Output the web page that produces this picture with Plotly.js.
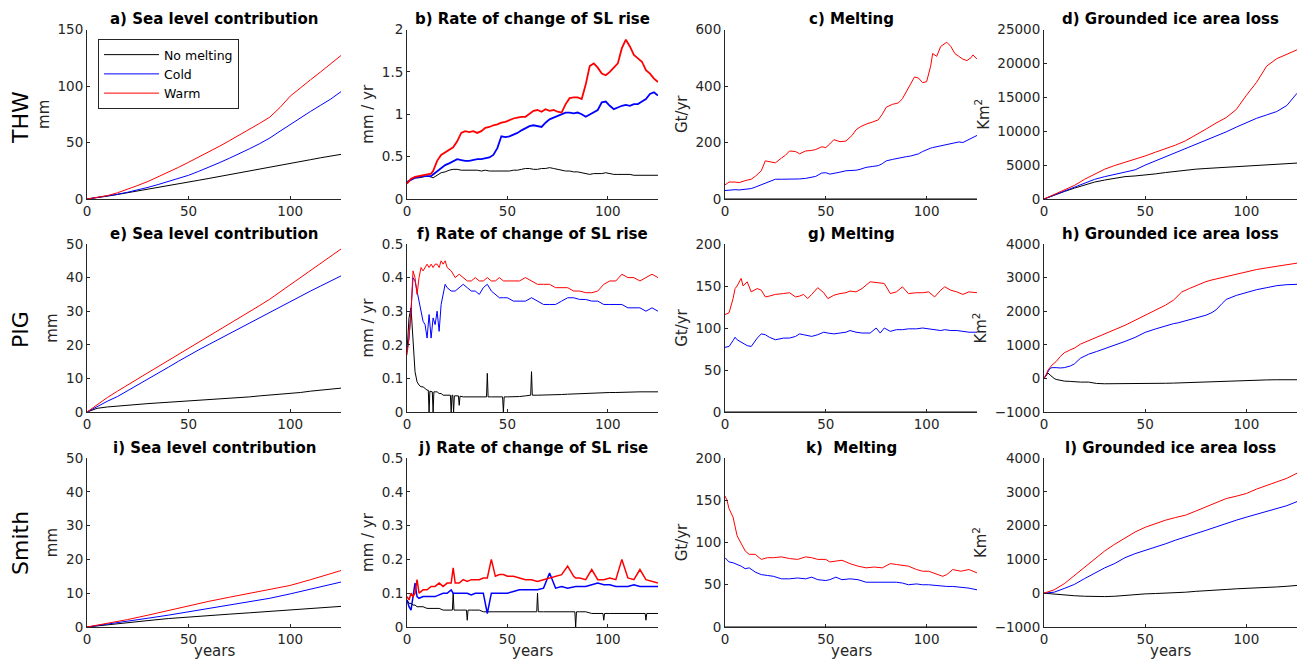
<!DOCTYPE html>
<html>
<head>
<meta charset="utf-8">
<script src="https://cdn.plot.ly/plotly-3.0.1.min.js"></script>
<style>html,body{margin:0;padding:0;background:#fff;}#chart{width:1298px;height:665px;}</style>
</head>
<body>
<div id="chart"></div>
<script>
// ---------- DATA ----------
const seriesNames = ['No melting', 'Cold', 'Warm'];
const rowLabels = ['THW', 'PIG', 'Smith'];
const panelTitles = ['a) Sea level contribution', 'b) Rate of change of SL rise', 'c) Melting', 'd) Grounded ice area loss',
  'e) Sea level contribution', 'f) Rate of change of SL rise', 'g) Melting', 'h) Grounded ice area loss',
  'i) Sea level contribution', 'j) Rate of change of SL rise', 'k)\u00a0 Melting', 'l) Grounded ice area loss'];
const yTitles = ['mm', 'mm / yr', 'Gt/yr', 'Km<sup>2</sup>'];
const xTitle = 'years';

// a) THW sea level contribution
const yrsA = [0,5,10,15,20,25,30,35,40,45,50,55,60,65,70,75,80,85,90,95,100,105,110,115,120,125];
const aNoMelt = [0,1.1,2.5,4,5.5,7,8.6,10.2,11.8,13.4,15,16.6,18.2,19.8,21.4,23,24.6,26.2,27.8,29.5,31.2,33,34.8,36.5,38.2,39.5];
const aCold = [0,1.2,2.6,4.2,6,8,10.3,12.8,15.4,18,21,24.5,28,32,36,40,44.5,49,54,60,66,72,77.5,83,88.5,95];
const aWarm = [0,1.2,3,5.5,8.5,12,15.5,19.5,23.5,28,32.5,37,41.5,46.5,51.5,56.5,61.5,67,72.5,81,91,98.5,105.5,112.5,120,127];

// b) THW rate of change of SL rise
const yrsB = [0,2,4,6,8,10,12,13,15,17,19,21,23,25,27,29,31,33,35,37,39,41,43,45,47,49,51,53,55,57,59,61,63,65,67,69,71,73,75,77,79,81,83,85,87,89,91,93,95,97,99,101,103,105,107,109,111,113,115,117,119,121,123,125];
const bWarm = [0.18,0.24,0.26,0.27,0.28,0.29,0.30,0.33,0.45,0.52,0.55,0.58,0.61,0.68,0.78,0.80,0.79,0.80,0.78,0.80,0.84,0.85,0.87,0.88,0.90,0.91,0.93,0.95,0.96,0.97,0.97,1.00,1.04,1.05,1.03,1.06,1.04,1.05,1.03,1.02,1.12,1.19,1.20,1.20,1.18,1.35,1.57,1.60,1.55,1.48,1.46,1.50,1.55,1.60,1.78,1.88,1.80,1.70,1.66,1.62,1.52,1.48,1.42,1.38];
const bCold = [0.2,0.23,0.25,0.26,0.27,0.27,0.27,0.29,0.33,0.37,0.40,0.42,0.45,0.47,0.46,0.45,0.45,0.46,0.47,0.47,0.48,0.49,0.52,0.60,0.74,0.73,0.74,0.76,0.78,0.81,0.84,0.86,0.87,0.86,0.85,0.90,0.94,0.96,0.98,1.00,1.02,1.02,1.01,1.02,1.00,0.97,1.00,1.02,1.05,1.14,1.15,1.10,1.06,1.08,1.10,1.11,1.10,1.12,1.12,1.15,1.18,1.24,1.26,1.22];
const bNoMelt = [0.2,0.23,0.25,0.25,0.26,0.27,0.26,0.25,0.28,0.31,0.32,0.34,0.35,0.35,0.34,0.34,0.34,0.34,0.34,0.33,0.34,0.33,0.33,0.33,0.33,0.33,0.33,0.34,0.34,0.35,0.36,0.36,0.35,0.35,0.36,0.36,0.37,0.36,0.35,0.34,0.33,0.33,0.32,0.32,0.31,0.30,0.29,0.30,0.30,0.30,0.31,0.30,0.29,0.29,0.29,0.29,0.29,0.28,0.28,0.28,0.28,0.28,0.28,0.28];

// c) THW melting
const yrsC = [0,2,5,7,10,13,15,18,20,23,25,28,30,32,35,37,40,43,45,48,50,52,54,57,60,63,65,67,70,73,76,78,80,83,86,88,90,92,94,96,98,100,102,103,105,107,109,110,112,114,116,118,120,122,123,125];
const cWarm = [50,60,60,58,65,70,80,100,135,130,128,145,155,170,168,160,170,172,175,185,182,195,210,203,205,225,245,255,265,272,280,300,325,335,340,355,380,410,432,428,412,415,470,515,505,540,552,555,540,515,505,495,490,500,510,495];
const cCold = [30,32,33,32,35,37,42,50,55,65,70,70,70,70,70,71,73,77,80,92,93,88,90,95,100,100,102,105,112,115,118,125,135,140,145,147,150,152,155,160,168,175,180,182,185,190,193,195,198,200,202,200,208,215,220,225];
const yrsNoMeltMelting = [0,125];
const noMeltMelting = [0,0];

// d) THW grounded ice area loss
const yrsD = [0,5,10,15,20,25,30,35,40,45,50,55,60,65,70,75,80,85,90,95,100,105,110,115,120,125];
const dWarm = [0,650,1300,2000,2900,3700,4400,4950,5400,5850,6350,6900,7400,7950,8600,9400,10300,11200,12000,13200,15300,17200,19600,20700,21400,22000];
const dCold = [0,600,1200,1700,2300,2900,3300,3600,3900,4300,5000,5600,6200,6800,7400,8000,8600,9200,9900,10600,11300,11900,12400,12900,13800,15600];
const dNoMelt = [0,600,1100,1600,2100,2500,2800,3100,3300,3400,3500,3700,3900,4100,4300,4400,4500,4600,4700,4800,4900,4950,5050,5150,5250,5300];

// e) PIG sea level contribution
const yrsE = [0,5,10,15,20,25,30,35,40,45,50,55,60,65,70,75,80,85,90,95,100,105,110,115,120,125];
const eWarm = [0,2.2,4.3,6.2,8.1,9.9,11.7,13.5,15.3,17.1,18.9,20.7,22.5,24.3,26.1,28,29.9,31.7,33.6,35.7,38,40,42.2,44.3,46.4,48.5];
const eCold = [0,1.7,3.2,4.6,6.3,8,9.8,11.5,13.3,15.1,16.9,18.5,20.1,21.7,23.3,25,26.6,28.2,29.8,31.4,33,34.5,36,37.5,39,40.5];
const eNoMelt = [0,1.1,1.5,1.8,2.05,2.3,2.5,2.7,2.9,3.0,3.1,3.3,3.5,3.7,4.0,4.3,4.5,4.8,5.0,5.2,5.4,5.8,6.2,6.5,6.8,7.1];

// f) PIG rate of change of SL rise
const yrsF = [0,1,2,3,4,5,6,7,8,9,10,11,12,13,14,15,16,17,18,19,20,22,24,26,28,30,32,34,36,38,40,42,44,46,48,50,53,56,59,62,65,68,71,74,77,80,83,86,89,92,95,98,101,104,107,110,113,116,119,122,125];
const fWarm = [0.17,0.22,0.30,0.42,0.40,0.35,0.40,0.43,0.42,0.43,0.44,0.43,0.44,0.43,0.44,0.44,0.43,0.45,0.44,0.45,0.43,0.42,0.40,0.41,0.40,0.39,0.39,0.40,0.39,0.39,0.40,0.39,0.39,0.40,0.39,0.39,0.39,0.39,0.40,0.39,0.38,0.38,0.38,0.37,0.37,0.37,0.36,0.36,0.355,0.355,0.36,0.38,0.39,0.39,0.41,0.40,0.40,0.39,0.40,0.41,0.40];
const fCold = [0.18,0.22,0.30,0.40,0.39,0.36,0.33,0.29,0.27,0.26,0.22,0.29,0.22,0.28,0.26,0.30,0.24,0.32,0.35,0.38,0.37,0.36,0.36,0.37,0.38,0.37,0.36,0.36,0.35,0.37,0.38,0.36,0.35,0.34,0.34,0.34,0.33,0.33,0.33,0.34,0.33,0.32,0.32,0.32,0.33,0.34,0.34,0.335,0.335,0.33,0.33,0.32,0.32,0.32,0.32,0.31,0.31,0.31,0.30,0.31,0.30];
const yrsFNoMelt = [0,1,2,3,4,5,6,7,8,9,10,10.6,11,11.4,12,12.6,13,13.4,14,15,16,17,18,19,20,21.6,22,22.4,22.8,23.2,23.6,25.6,26,26.4,28,30,32,34,36,38,39.6,40,40.4,42,44,46,47.6,48,48.4,50,53,56,59,61.6,62,62.4,65,68,71,74,77,80,83,86,89,92,95,98,101,104,107,110,113,116,119,122,125];
const fNoMelt = [0.18,0.28,0.31,0.20,0.12,0.09,0.08,0.075,0.075,0.07,0.065,0.065,0.0,0.062,0.06,0.06,0.0,0.06,0.06,0.06,0.055,0.055,0.05,0.05,0.05,0.05,0.0,0.05,0.05,0.0,0.048,0.048,0.02,0.047,0.045,0.045,0.045,0.045,0.045,0.045,0.045,0.115,0.045,0.045,0.045,0.045,0.045,0.0,0.045,0.045,0.045,0.046,0.048,0.05,0.12,0.05,0.05,0.05,0.05,0.05,0.052,0.053,0.054,0.055,0.055,0.056,0.057,0.058,0.058,0.058,0.059,0.059,0.06,0.06,0.06,0.06,0.06];

// g) PIG melting
const yrsG = [0,2,4,5,6,8,9,11,13,16,18,20,22,25,29,32,35,37,39,41,43,46,49,51,54,57,60,62,65,68,72,75,77,79,82,85,88,91,95,98,101,104,107,109,112,115,118,121,125];
const gWarm = [116,118,135,147,150,159,150,155,143,147,145,137,138,140,141,142,137,138,140,135,140,148,142,135,139,141,142,144,143,147,155,154,154,153,141,143,149,141,142,142,143,137,145,149,145,143,140,143,142];
const gCold = [77,78,85,89,86,83,81,79,78,88,93,92,89,86,88,88,90,93,92,91,90,92,95,94,93,94,95,97,95,94,94,100,94,100,96,98,98,99,99,100,99,98,97,98,97,97,96,95,95];

// h) PIG grounded ice area loss
const yrsH = [0,1,2,3,4,5,6,8,10,13,15,18,22,26,30,35,40,45,50,55,60,64,66,68,72,76,80,83,85,88,90,95,100,105,110,115,120,125];
const hWarm = [0,100,250,330,400,450,500,650,760,850,900,1020,1120,1230,1330,1450,1580,1730,1880,2020,2180,2330,2450,2570,2680,2780,2880,2930,2960,2990,3020,3090,3180,3240,3290,3330,3380,3430];
const hCold = [0,100,220,300,320,330,320,310,320,370,430,600,720,800,880,980,1100,1220,1370,1470,1570,1630,1650,1680,1740,1800,1880,1960,2040,2230,2350,2470,2560,2640,2700,2760,2790,2800];
const hNoMelt = [0,80,160,100,40,0,-30,-60,-80,-90,-100,-110,-110,-150,-160,-160,-165,-165,-160,-155,-145,-140,-135,-130,-120,-110,-100,-95,-90,-90,-85,-75,-60,-50,-45,-40,-40,-40];

// i) Smith sea level contribution
const yrsI = [0,10,20,30,40,50,60,70,80,90,100,110,120,125];
const iWarm = [0,1,2.2,3.5,4.9,6.3,7.6,8.8,10,11.2,12.3,14,15.9,16.7];
const iCold = [0,0.8,1.7,2.6,3.5,4.5,5.5,6.5,7.5,8.5,9.8,11.2,12.7,13.3];
const iNoMelt = [0,0.7,1.3,1.9,2.5,3.0,3.4,3.8,4.2,4.6,4.9,5.4,5.9,6.1];

// j) Smith rate of change of SL rise
const yrsJ = [0,1,2,3,4,5,6,8,10,12,14,16,18,20,22,23,24,26,28,30,32,34,36,38,40,42,44,46,48,50,53,56,59,62,65,68,71,74,77,80,83,84,86,89,92,95,98,101,104,107,110,113,116,119,122,125];
const jWarm = [0.09,0.08,0.1,0.09,0.1,0.14,0.1,0.11,0.11,0.12,0.12,0.13,0.12,0.13,0.13,0.175,0.13,0.13,0.14,0.135,0.14,0.14,0.14,0.145,0.145,0.2,0.15,0.155,0.155,0.15,0.15,0.145,0.14,0.14,0.135,0.14,0.145,0.15,0.155,0.18,0.15,0.145,0.145,0.14,0.17,0.14,0.14,0.145,0.14,0.2,0.145,0.14,0.17,0.14,0.135,0.13];
const jCold = [0.08,0.06,0.05,0.09,0.13,0.09,0.085,0.09,0.09,0.09,0.09,0.095,0.1,0.1,0.11,0.1,0.1,0.1,0.1,0.1,0.095,0.1,0.1,0.1,0.04,0.1,0.1,0.1,0.1,0.1,0.105,0.11,0.11,0.11,0.11,0.115,0.16,0.115,0.12,0.115,0.12,0.12,0.12,0.12,0.125,0.13,0.125,0.125,0.12,0.12,0.12,0.125,0.12,0.12,0.12,0.12];
const yrsJNoMelt = [0,1,2,3,4,5,6,8,10,12,14,16,18,20,22.6,23,23.4,26,28,29.6,30,30.4,32,34,36,38,40,42,44,46,48,50,53,56,59,62,64.6,65,65.4,68,71,74,77,80,83.6,84,84.4,86,89,92,95,97.6,98,98.4,101,104,107,110,113,116,118.6,119,119.4,122,125];
const jNoMelt = [0.08,0.07,0.07,0.065,0.065,0.06,0.06,0.06,0.055,0.055,0.055,0.055,0.05,0.05,0.05,0.1,0.05,0.05,0.05,0.05,0.02,0.05,0.05,0.05,0.05,0.045,0.045,0.045,0.045,0.045,0.045,0.045,0.045,0.045,0.045,0.045,0.045,0.1,0.045,0.045,0.045,0.045,0.045,0.045,0.045,0.0,0.045,0.045,0.045,0.04,0.04,0.04,0.02,0.04,0.04,0.04,0.04,0.04,0.04,0.04,0.04,0.02,0.04,0.04,0.04];

// k) Smith melting
const yrsK = [0,1,2,4,6,8,10,12,15,18,21,24,28,32,36,40,43,46,50,52,55,58,62,66,70,74,78,82,85,88,91,95,98,101,105,108,110,113,117,121,125];
const kWarm = [155,150,140,130,108,98,90,86,86,80,82,82,83,81,80,83,82,80,80,77,78,79,75,72,70,71,70,75,74,73,72,68,66,66,63,60,62,68,66,68,64];
const kCold = [82,80,77,76,74,72,69,70,65,62,61,60,57,57,58,57,59,56,55,56,59,56,57,56,53,53,53,53,53,52,50,51,50,50,49,48,48,48,47,46,44];

// l) Smith grounded ice area loss
const yrsL = [0,5,10,15,20,25,30,35,40,45,50,55,60,65,70,75,80,85,90,95,100,105,110,115,120,125];
const lWarm = [0,100,280,520,760,1000,1250,1450,1640,1810,1950,2060,2160,2240,2310,2430,2550,2680,2800,2870,2950,3080,3180,3290,3400,3550];
const lCold = [0,30,140,260,430,600,750,880,1050,1170,1260,1370,1460,1570,1660,1760,1860,1960,2070,2160,2250,2330,2410,2510,2590,2710];
const lNoMelt = [0,-30,-60,-75,-90,-100,-100,-90,-60,-35,-20,-10,0,15,30,55,80,95,110,130,140,150,165,185,205,230];

// y-axis ranges and tick steps per panel
const yRanges = [[0,150],[0,2],[0,600],[0,25000],[0,50],[0,0.5],[0,200],[-1000,4000],[0,50],[0,0.5],[0,200],[-1000,4000]];
const yDticks = [50,0.5,200,5000,10,0.1,50,1000,10,0.1,50,1000];

// ---------- BUILD ----------
const colors = {nm: '#000000', cold: '#0000ff', warm: '#ff0000'};
const panels = [
  [[yrsA,aNoMelt],[yrsA,aCold],[yrsA,aWarm]],
  [[yrsB,bNoMelt],[yrsB,bCold],[yrsB,bWarm]],
  [[yrsNoMeltMelting,noMeltMelting],[yrsC,cCold],[yrsC,cWarm]],
  [[yrsD,dNoMelt],[yrsD,dCold],[yrsD,dWarm]],
  [[yrsE,eNoMelt],[yrsE,eCold],[yrsE,eWarm]],
  [[yrsFNoMelt,fNoMelt],[yrsF,fCold],[yrsF,fWarm]],
  [[yrsNoMeltMelting,noMeltMelting],[yrsG,gCold],[yrsG,gWarm]],
  [[yrsH,hNoMelt],[yrsH,hCold],[yrsH,hWarm]],
  [[yrsI,iNoMelt],[yrsI,iCold],[yrsI,iWarm]],
  [[yrsJNoMelt,jNoMelt],[yrsJ,jCold],[yrsJ,jWarm]],
  [[yrsNoMeltMelting,noMeltMelting],[yrsK,kCold],[yrsK,kWarm]],
  [[yrsL,lNoMelt],[yrsL,lCold],[yrsL,lWarm]]
];
const W = 1298, H = 665;
const colPx = [[87,341],[407,658],[725,977],[1044,1297]];
const rowPx = [[29.5,199],[244,412],[458,627]];
const lineColors = [colors.nm, colors.cold, colors.warm];
const FONT = 'DejaVu Sans, Arial, sans-serif';
const AX = '#262626';

function lineWidth(panelIdx, k) {
  const r = Math.floor(panelIdx / 4), c = panelIdx % 4;
  if (c !== 1 || k === 0) return 1;
  if (r === 0) return 1.8;
  if (r === 2) return 1.5;
  return 1;
}

const traces = [];
const layout = {
  width: W, height: H,
  margin: {l:0, r:0, t:0, b:0},
  paper_bgcolor: '#fff', plot_bgcolor: '#fff',
  font: {family: FONT, color: AX, size: 13.5},
  showlegend: true,
  legend: {x: 98/W, y: 1-39/H, xanchor: 'left', yanchor: 'top', bgcolor: '#fff', bordercolor: AX, borderwidth: 1,
           font: {family: FONT, size: 12.5, color: '#000'}, tracegroupgap: 0, itemwidth: 55},
  annotations: []
};

panels.forEach((p, i) => {
  const n = i + 1;
  const r = Math.floor(i / 4), c = i % 4;
  const xa = n === 1 ? 'x' : 'x' + n, ya = n === 1 ? 'y' : 'y' + n;
  p.forEach((s, k) => {
    traces.push({
      x: s[0], y: s[1], type: 'scatter', mode: 'lines',
      xaxis: xa, yaxis: ya, name: seriesNames[k],
      showlegend: i === 0,
      line: {color: lineColors[k], width: lineWidth(i, k)},
      hoverinfo: 'skip'
    });
  });
  const xkey = n === 1 ? 'xaxis' : 'xaxis' + n, ykey = n === 1 ? 'yaxis' : 'yaxis' + n;
  layout[xkey] = {
    domain: [colPx[c][0]/W, colPx[c][1]/W], anchor: ya, range: [0,125], dtick: 50, tick0: 0,
    showline: true, linecolor: AX, linewidth: 1, ticks: 'inside', ticklen: 3, tickcolor: AX,
    showgrid: false, zeroline: false, tickfont: {family: FONT, size: 13.5, color: AX}
  };
  const yaxis = {
    domain: [1 - rowPx[r][1]/H, 1 - rowPx[r][0]/H], anchor: xa, range: yRanges[i], dtick: yDticks[i], tick0: 0,
    showline: true, linecolor: AX, linewidth: 1, ticks: 'inside', ticklen: 3, tickcolor: AX,
    showgrid: false, zeroline: false, exponentformat: 'none',
    tickfont: {family: FONT, size: 13.5, color: AX},
    title: {text: yTitles[c], font: {family: FONT, size: 15, color: AX}, standoff: 4}
  };
  if (c === 3) yaxis.tickformat = 'd';
  layout[ykey] = yaxis;
  layout.annotations.push({
    text: '<b>' + panelTitles[i] + '</b>', xref: xa + ' domain', yref: ya + ' domain', x: 0.5, y: 1,
    xanchor: 'center', yanchor: 'bottom', showarrow: false, yshift: -1,
    font: {family: FONT, size: 15, color: '#000'}
  });
  if (r === 2) {
    layout.annotations.push({
      text: xTitle, xref: xa + ' domain', yref: ya + ' domain', x: 0.5, y: 0,
      xanchor: 'center', yanchor: 'top', showarrow: false, yshift: -13,
      font: {family: FONT, size: 15, color: AX}
    });
  }
});

const rowCenters = [118, 330, 543];
rowLabels.forEach((t, r) => {
  layout.annotations.push({
    text: t, xref: 'paper', yref: 'paper', x: 20/W, y: 1 - rowCenters[r]/H,
    xanchor: 'center', yanchor: 'middle', textangle: -90, showarrow: false,
    font: {family: FONT, size: 22, color: '#000'}
  });
});

Plotly.newPlot('chart', traces, layout, {staticPlot: true, displayModeBar: false});
</script>
</body>
</html>
